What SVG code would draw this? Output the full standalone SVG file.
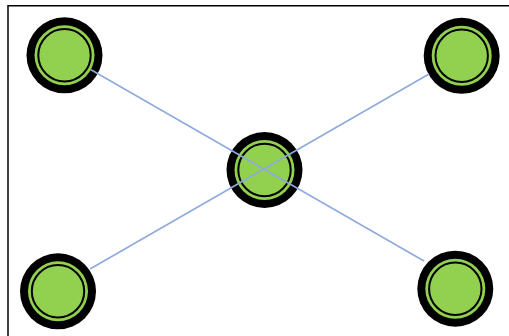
<svg xmlns="http://www.w3.org/2000/svg" width="509" height="336" viewBox="0 0 509 336">
  <defs>
    <style>
      .ring { fill: #000000; }
      .band { fill: #92D050; }
      .core { fill: #92D050; stroke: #000000; stroke-width: 2; }
      .edge { stroke: #8FAADC; stroke-width: 1.6; fill: none; stroke-linecap: butt; }
      .frame { fill: none; stroke: #000000; stroke-width: 1.5; }
    </style>
    <g id="token">
      <circle class="ring" r="38"/>
      <circle class="band" r="30"/>
      <circle class="core" r="26.2"/>
    </g>
  </defs>

  <rect width="509" height="336" fill="#ffffff"/>
  <!-- frame: only the left and top sides fall inside the canvas -->
  <path class="frame" d="M8,336 V5.75 H509"/>

  <g id="node-top-left" transform="translate(64.5,55.3)"><use href="#token"/></g>
  <g id="node-top-right" transform="translate(461.7,55.8)"><use href="#token"/></g>
  <g id="node-center" transform="translate(264.5,170)"><use href="#token"/></g>
  <g id="node-bottom-left" transform="translate(58,291.3)"><use href="#token"/></g>
  <g id="node-bottom-right" transform="translate(455.3,288.7)"><use href="#token"/></g>

  <g id="connectors">
    <line class="edge" x1="90.5" y1="69.5" x2="424" y2="261"/>
    <line class="edge" x1="90" y1="269" x2="429" y2="74"/>
  </g>
</svg>
